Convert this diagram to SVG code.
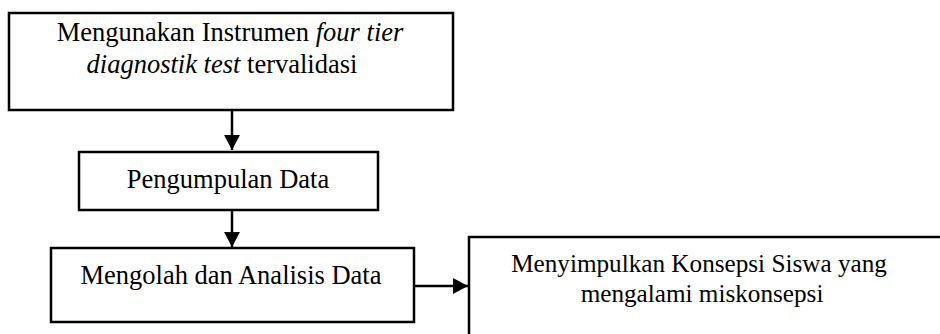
<svg xmlns="http://www.w3.org/2000/svg" width="940" height="334" viewBox="0 0 940 334">
<style>
.box{fill:#fff;stroke:#000;stroke-width:2.5}
.t{font-family:"Liberation Serif","Times New Roman",serif;font-size:26.5px;fill:#000;text-anchor:middle}
.s{font-size:25.2px}
.c{stroke:#000;stroke-width:2.5;fill:none}
</style>
<defs>
<marker id="ah" markerWidth="15" markerHeight="16" refX="15" refY="8" orient="auto" markerUnits="userSpaceOnUse" viewBox="0 0 15 16">
<path d="M0,0 L15,8 L0,16 Z" fill="#000"/>
</marker>
</defs>
<rect width="940" height="334" fill="#fff"/>
<g id="connectors">
<line class="c" x1="232" y1="110" x2="232" y2="150" marker-end="url(#ah)"/>
<line class="c" x1="232" y1="210" x2="232" y2="247" marker-end="url(#ah)"/>
<line class="c" x1="414" y1="286" x2="468" y2="286" marker-end="url(#ah)"/>
</g>
<g id="n1">
<rect class="box" x="9" y="13" width="444" height="97"/>
<text class="t" x="230" y="41">Mengunakan Instrumen <tspan font-style="italic">four tier</tspan></text>
<text class="t" x="222" y="73"><tspan font-style="italic">diagnostik test</tspan> tervalidasi</text>
</g>
<g id="n2">
<rect class="box" x="79" y="152" width="299" height="58"/>
<text class="t" x="228" y="188">Pengumpulan Data</text>
</g>
<g id="n3">
<rect class="box" x="51" y="248" width="363" height="74"/>
<text class="t" x="231" y="284">Mengolah dan Analisis Data</text>
</g>
<g id="n4">
<rect class="box" x="469" y="237" width="480" height="110"/>
<text class="t s" x="699" y="272">Menyimpulkan Konsepsi Siswa yang</text>
<text class="t s" x="702" y="302">mengalami miskonsepsi</text>
</g>
</svg>
